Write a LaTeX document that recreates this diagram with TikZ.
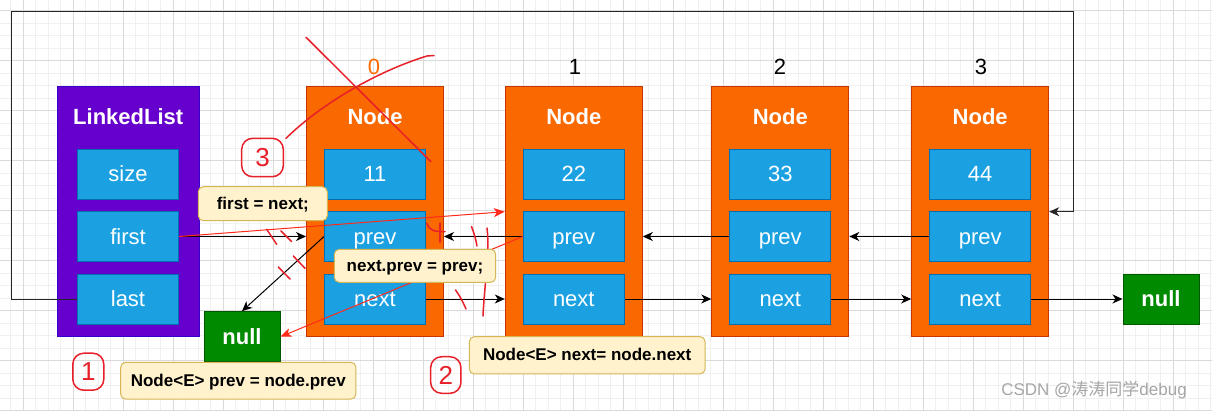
\documentclass[tikz,border=0pt]{standalone}
\usepackage{fontspec}
\setmainfont{Liberation Sans}
\newfontfamily\cjk{Noto Sans CJK SC}
\usetikzlibrary{arrows.meta}
\definecolor{llpurple}{HTML}{6600CC}
\definecolor{llstroke}{HTML}{3700CC}
\definecolor{norange}{HTML}{FA6800}
\definecolor{nstroke}{HTML}{C73500}
\definecolor{cellblue}{HTML}{1BA1E2}
\definecolor{cellstroke}{HTML}{006EAF}
\definecolor{ngreen}{HTML}{008A00}
\definecolor{nullstroke}{HTML}{005700}
\definecolor{notefill}{HTML}{FFF2CC}
\definecolor{notestroke}{HTML}{D6B656}
\definecolor{redline}{HTML}{FF2A1A}
\definecolor{handred}{HTML}{E8202A}
\definecolor{minorgrid}{HTML}{F0F0F0}
\definecolor{majorgrid}{HTML}{DADADA}
\definecolor{idxorange}{HTML}{FF6A00}
\tikzset{
  plainbox/.style={draw, line width=1pt, inner sep=0pt, anchor=center},
  llbox/.style={plainbox, fill=llpurple, draw=llstroke, minimum width=141.7pt, minimum height=250pt},
  nodebox/.style={plainbox, fill=norange, draw=nstroke, minimum width=137pt, minimum height=250pt},
  cellbox/.style={plainbox, fill=cellblue, draw=cellstroke, minimum width=101pt, minimum height=50pt, text=white, font=\fontsize{22}{26}\selectfont, text height=20pt, text depth=4.6pt},
  ttl/.style={text=white, font=\bfseries\fontsize{22}{26}\selectfont, inner sep=0pt},
  nullbox/.style={plainbox, fill=ngreen, draw=nullstroke, minimum width=76pt, minimum height=50pt, text=white, font=\bfseries\fontsize{22}{26}\selectfont, text height=20pt, text depth=4.6pt},
  notebox/.style={plainbox, fill=notefill, draw=notestroke, rounded corners=5pt, font=\bfseries\fontsize{17}{20}\selectfont, text height=15pt, text depth=3.8pt},
  idx/.style={font=\fontsize{22}{26}\selectfont, inner sep=0pt},
  linkarrow/.style={line width=1pt, -{Stealth[length=10pt,width=9pt,inset=3pt]}},
  redarrow/.style={draw=redline, line width=1pt, -{Stealth[length=11pt,width=9pt,inset=3pt]}},
  handmark/.style={draw=handred, line width=1.5pt, line cap=round},
  circnum/.style={draw=handred, line width=1.5pt, rounded corners=11pt, text=handred, font=\fontsize{26}{30}\selectfont, inner sep=0pt, anchor=center},
}
\begin{document}
\begin{tikzpicture}[x=1pt,y=-1pt]
\useasboundingbox[fill=white] (0,0) rectangle (1212,410);
% grid
\foreach \k in {0,...,96} {
  \draw[minorgrid, line width=0.8pt] ({10.8+12.5*\k},0) -- ({10.8+12.5*\k},410);
}
\foreach \k in {0,...,32} {
  \draw[minorgrid, line width=0.8pt] (0,{10.8+12.5*\k}) -- (1212,{10.8+12.5*\k});
}
\foreach \k in {0,...,23} {
  \draw[majorgrid, line width=0.8pt] ({23.3+50*\k},0) -- ({23.3+50*\k},410);
}
\foreach \k in {0,...,8} {
  \draw[majorgrid, line width=0.8pt] (0,{10.8+50*\k}) -- (1212,{10.8+50*\k});
}

% LinkedList
\node[llbox] (ll) at (128.2,211.7) {};
\node[ttl] (lltitle) at (128.2,117) {LinkedList};
\node[cellbox] (llsize) at (128,174) {size};
\node[cellbox] (llfirst) at (128,236.5) {first};
\node[cellbox] (lllast) at (128,299) {last};

% Nodes
\foreach \n/\x/\v/\i in {0/375/11/0, 1/573.8/22/1, 2/780.3/33/2, 3/980.2/44/3} {
  \node[nodebox] (n\n) at (\x,211.7) {};
  \node[ttl] (n\n t) at (\x,117) {Node};
  \node[cellbox] (n\n v) at (\x,174) {\v};
  \node[cellbox] (n\n p) at (\x,236.5) {prev};
  \node[cellbox] (n\n n) at (\x,299) {next};
}
\node[idx, text=idxorange] (i0) at (374,67) {0};
\node[idx] (i1) at (575,67) {1};
\node[idx] (i2) at (780,67) {2};
\node[idx] (i3) at (981,67) {3};

% null boxes
\node[nullbox] (null1) at (242,336.7) {null};
\node[nullbox] (null2) at (1161,299) {null};

% loop connector
\coordinate (lp1) at (11,11.7);
\coordinate (lp2) at (1073.3,11.7);
\draw[linkarrow, black!85] (lllast.west) -| (lp1) -- (lp2) |- (n3.east);

% black connectors
\draw[linkarrow] (llfirst.east) -- (llfirst.east -| n0.west);
\draw[linkarrow] (n0p.west) -- (null1.north);
\draw[linkarrow] (n0n.east) -- (n0n.east -| n1.west);
\draw[linkarrow] (n1n.east) -- (n1n.east -| n2.west);
\draw[linkarrow] (n2n.east) -- (n2n.east -| n3.west);
\draw[linkarrow] (n3n.east) -- (null2.west);
\draw[linkarrow] (n1p.west) -- (n1p.west -| n0.east);
\draw[linkarrow] (n2p.west) -- (n2p.west -| n1.east);
\draw[linkarrow] (n3p.west) -- (n3p.west -| n2.east);

% red connectors
\draw[redarrow] (llfirst.east) -- (n1.west);
\draw[redarrow] (n1p.west) -- (null1.east);

% hand marks
\draw[handmark] (266.7,229.3) -- (276.7,244.3);
\draw[handmark] (281,231) -- (291.7,241.7);
\draw[handmark] (293.3,256) -- (305,268.3);
\draw[handmark] (278.3,267) -- (290,279);
\draw[handmark] (426.7,223.3) .. controls (429,230) and (434,232) .. (445,231.5);
\draw[handmark] (440,223) -- (440,242);
\draw[handmark] (471.5,226.5) .. controls (474,233) and (476,240) .. (477,246);
\draw[handmark] (487,228) .. controls (490,250) and (484,290) .. (483,316);
\draw[handmark] (455.5,290) .. controls (460,296) and (463,302) .. (466,309);
\draw[handmark] (306,37.3) -- (431,161.7);
\draw[handmark] (286,138.3) .. controls (320,105) and (375,72) .. (427,56) -- (434,55.5);

% circled numbers
\node[circnum, minimum width=41.6pt, minimum height=38.4pt] (c3) at (262.5,157.5) {3};
\node[circnum, minimum width=31pt, minimum height=37pt] (c1) at (88.3,371.7) {1};
\node[circnum, minimum width=30.3pt, minimum height=36.6pt] (c2) at (445.8,375) {2};

% notes
\node[notebox, minimum width=129pt, minimum height=34pt] (a1) at (262.8,203.7) {first = next;};
\node[notebox, minimum width=161.4pt, minimum height=33pt] (a2) at (415,265.8) {next.prev = prev;};
\node[notebox, minimum width=235.3pt, minimum height=36.7pt] (a3) at (238.3,380.7) {Node<E> prev = node.prev};
\node[notebox, minimum width=235.7pt, minimum height=37.3pt] (a4) at (587.2,355.3) {Node<E> next= node.next};

% watermark
\node[text=black!35, font=\fontsize{17}{20}\selectfont, inner sep=0pt] (wm) at (1094,390) {CSDN @{\cjk 涛涛同学}debug};
\end{tikzpicture}
\end{document}
